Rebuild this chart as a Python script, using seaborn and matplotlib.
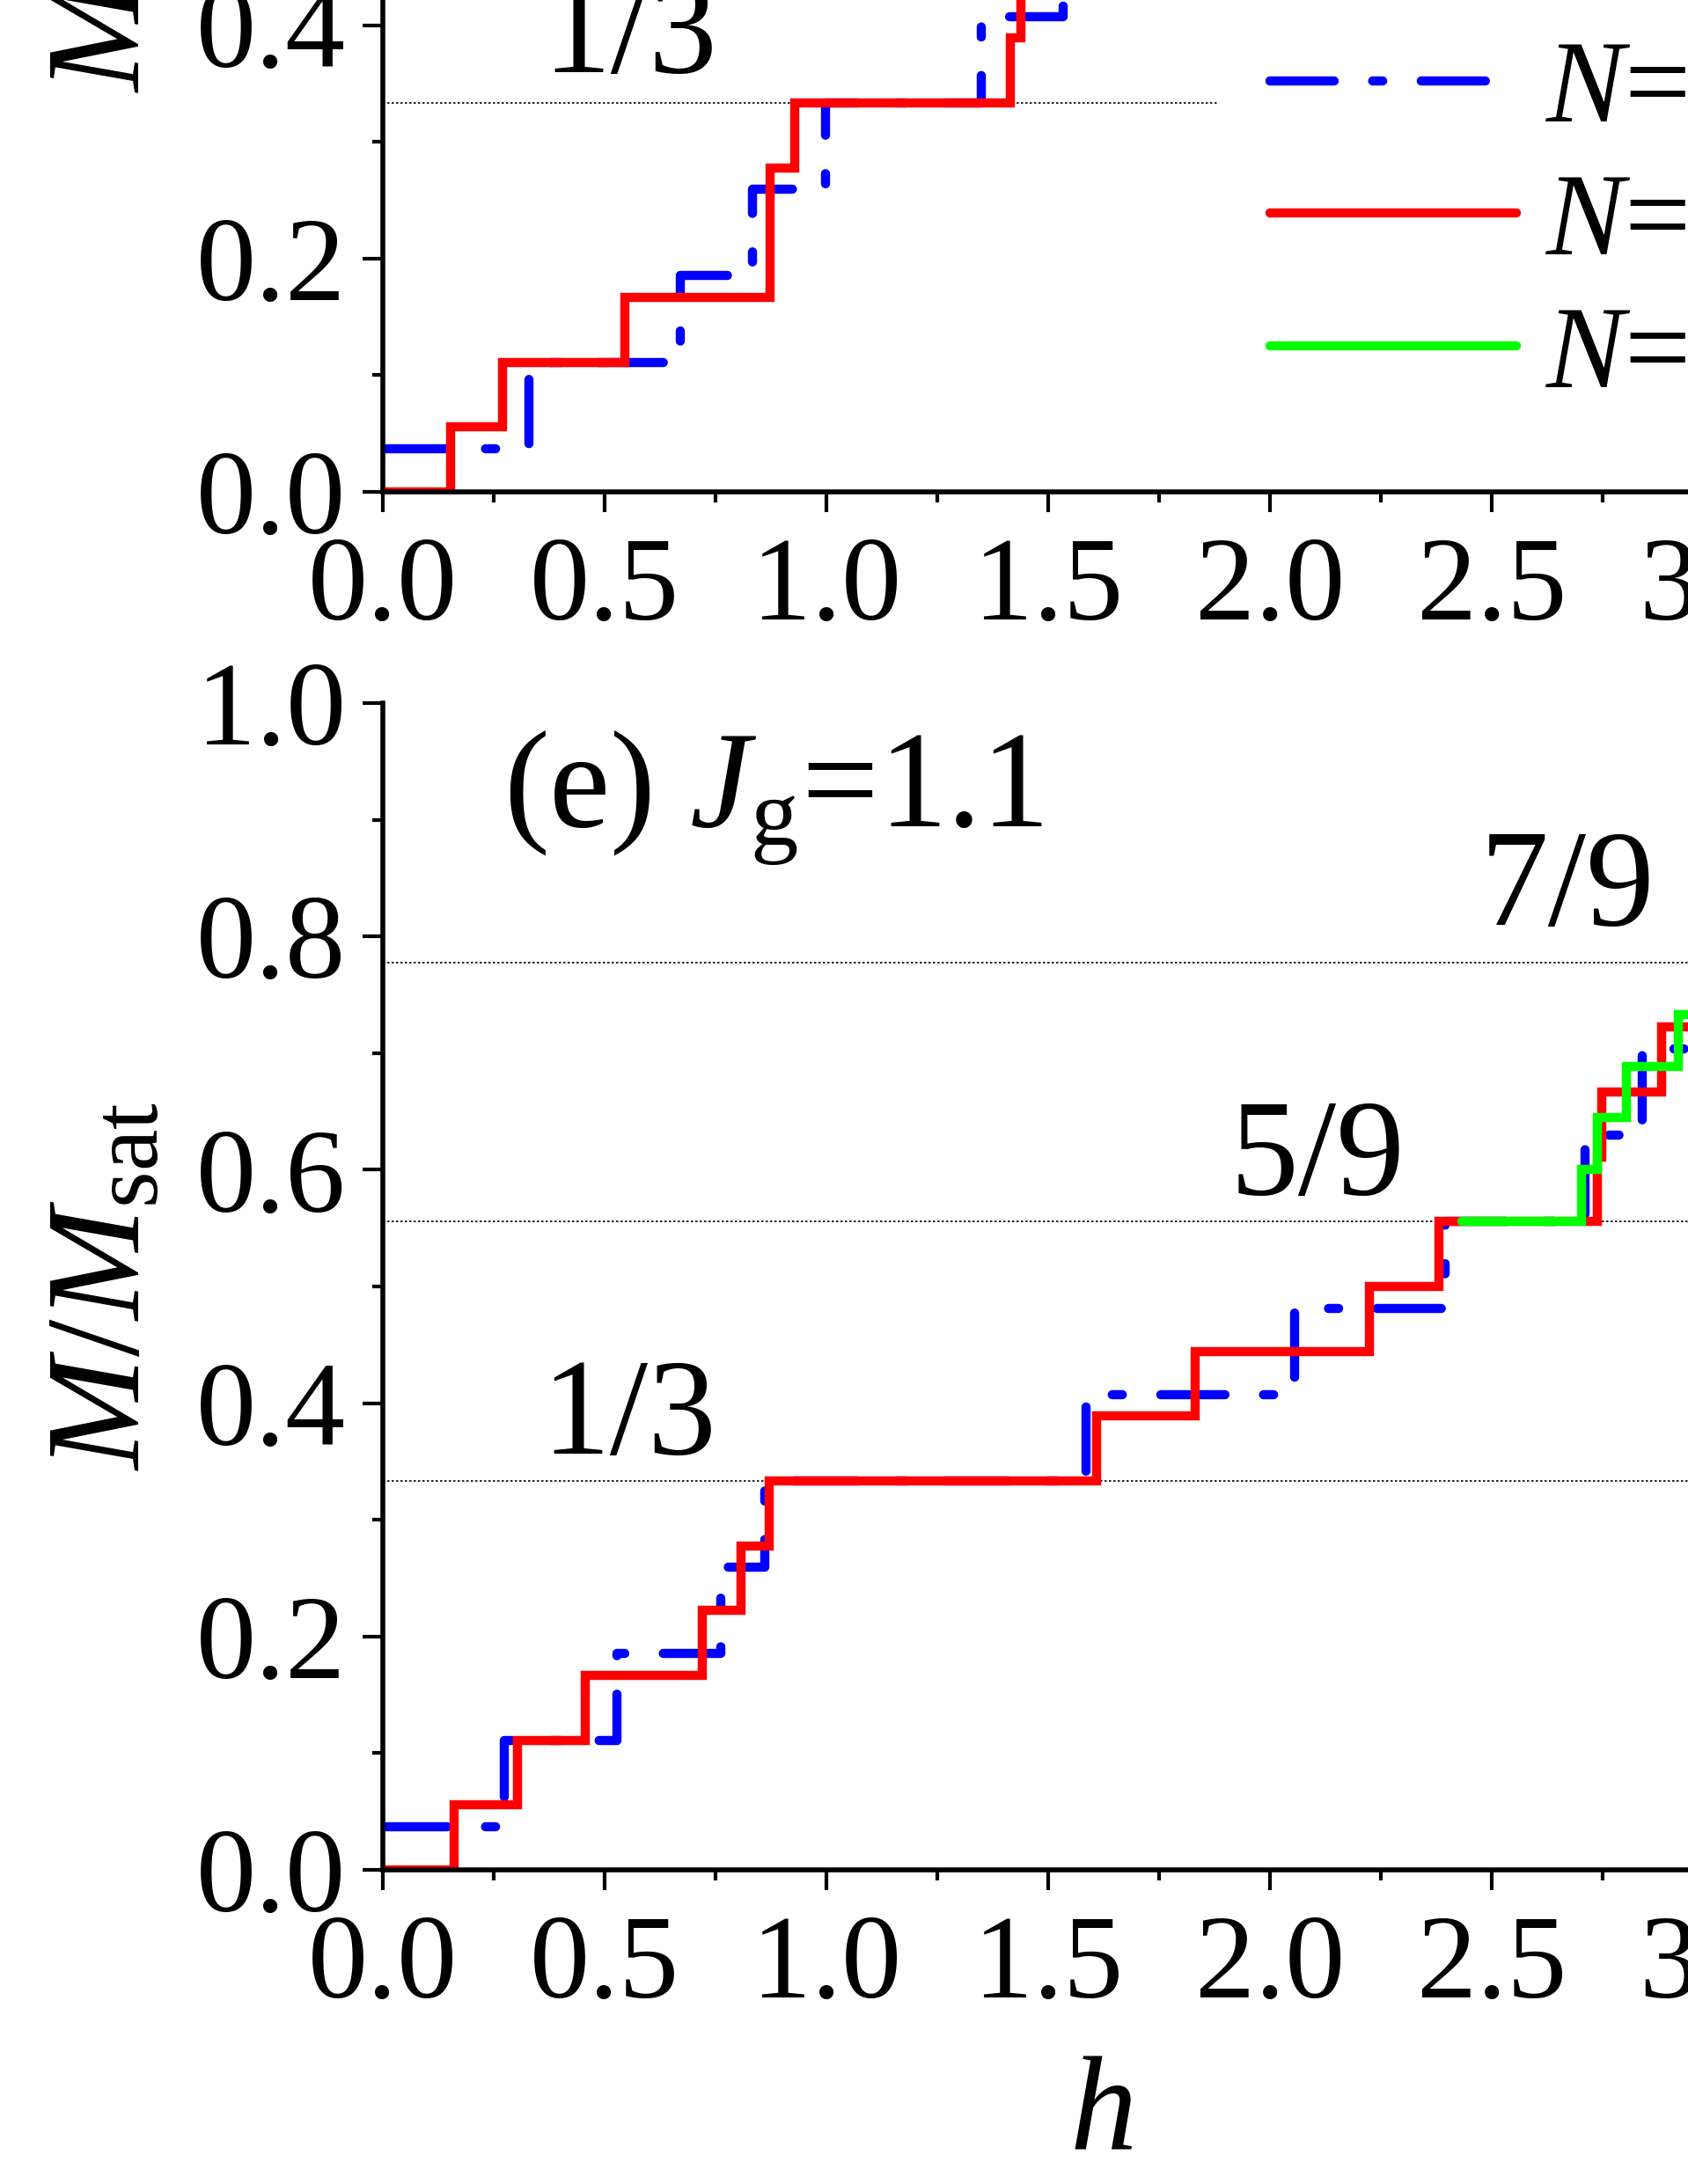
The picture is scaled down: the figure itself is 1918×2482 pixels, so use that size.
# Magnetization curves M/Msat vs h, steps for three cluster sizes
import matplotlib
matplotlib.use("Agg")
import matplotlib.pyplot as plt
import seaborn as sns
from matplotlib.ticker import MultipleLocator, FormatStrFormatter

sns.set_style("ticks")
plt.rcParams['font.family'] = ['Liberation Serif', 'DejaVu Serif']
plt.rcParams['mathtext.fontset'] = 'custom'
plt.rcParams['mathtext.rm'] = 'Liberation Serif'
plt.rcParams['mathtext.it'] = 'Liberation Serif:italic'
for key in ['text.color', 'axes.labelcolor', 'xtick.color', 'ytick.color']:
    plt.rcParams[key] = 'black'

# legend labels / colours
sizes = ['$N$=27', '$N$=36', '$N$=45']
colors = ['#0000ff', '#ff0000', '#00ff00']

# upper panel (only its lower part is visible)
top_h_27 = [0.0, 0.329, 0.671, 0.833, 0.999, 1.349, 1.534, 1.70]
top_m_27 = [1/27, 3/27, 5/27, 7/27, 9/27, 11/27, 13/27, 13/27]
top_h_36 = [0.0, 0.153, 0.270, 0.546, 0.873, 0.929, 1.415, 1.439, 1.60]
top_m_36 = [0, 1/18, 2/18, 3/18, 5/18, 6/18, 7/18, 8/18, 8/18]
top_plateaus = [1/3]
top_plateau_end = 1.885

# panel (e), Jg = 1.1
e_h_27 = [0.0, 0.274, 0.528, 0.762, 0.861, 1.586, 2.056, 2.395, 2.711, 2.840, 3.0]
e_m_27 = [1/27, 3/27, 5/27, 7/27, 9/27, 11/27, 13/27, 15/27, 17/27, 19/27, 19/27]
e_h_36 = [0.0, 0.161, 0.303, 0.457, 0.720, 0.807, 0.872, 1.609, 1.831,
          2.225, 2.380, 2.738, 2.748, 2.882, 3.0]
e_m_36 = [0, 1/18, 2/18, 3/18, 4/18, 5/18, 6/18, 7/18, 8/18,
          9/18, 10/18, 11/18, 12/18, 13/18, 13/18]
e_h_45 = [2.432, 2.702, 2.738, 2.804, 2.920, 3.0]
e_m_45 = [25/45, 27/45, 29/45, 31/45, 33/45, 33/45]
e_plateaus = [1/3, 5/9, 7/9]
e_labels = ['1/3', '5/9', '7/9']

XMAX = 3.24
LW = 7.5
dashdot = (0, (7.0, 4.2, 1.1, 4.2))

fig = plt.figure(figsize=(19.18, 24.82), dpi=100)
ax_top = fig.add_axes([0.2268, 0.7748, XMAX * 504 / 1918, 0.53425])
ax_bot = fig.add_axes([0.2268, 0.14383, XMAX * 504 / 1918, 0.53425])


def style_axis(ax):
    ax.set_xlim(0, XMAX)
    ax.set_ylim(0, 1.0)
    ax.xaxis.set_major_locator(MultipleLocator(0.5))
    ax.xaxis.set_minor_locator(MultipleLocator(0.25))
    ax.yaxis.set_major_locator(MultipleLocator(0.2))
    ax.yaxis.set_minor_locator(MultipleLocator(0.1))
    ax.xaxis.set_major_formatter(FormatStrFormatter('%.1f'))
    ax.yaxis.set_major_formatter(FormatStrFormatter('%.1f'))
    ax.tick_params(which='major', direction='out', length=16.5, width=3,
                   labelsize=98, color='black', labelcolor='black')
    ax.tick_params(which='minor', direction='out', length=8.5, width=3, color='black')
    ax.tick_params(axis='x', which='major', pad=20)
    ax.tick_params(axis='y', which='major', pad=14)
    for side in ['top', 'right']:
        ax.spines[side].set_visible(False)
    for side in ['left', 'bottom']:
        ax.spines[side].set_linewidth(4)
        ax.spines[side].set_color('black')
    ax.set_ylabel(r'$M/M_{\rm sat}$', fontsize=110, labelpad=22)


def steps(ax, h, m, color, ls='-'):
    sns.lineplot(x=h, y=m, ax=ax, color=color, linewidth=LW, linestyle=ls,
                 drawstyle='steps-post', estimator=None, sort=False, legend=False,
                 solid_capstyle='round', dash_capstyle='round',
                 solid_joinstyle='miter')
    return ax.lines[-1]


# upper panel
style_axis(ax_top)
ax_top.hlines(top_plateaus, 0, top_plateau_end, colors='black', linewidth=1.2,
              linestyles=(0, (1.5, 1.5)), zorder=1)
steps(ax_top, top_h_27, top_m_27, colors[0], dashdot)
steps(ax_top, top_h_36, top_m_36, colors[1])
ax_top.text(0.36, 0.3595, '1/3', fontsize=112, ha='left', va='baseline')

# panel (e)
style_axis(ax_bot)
ax_bot.hlines(e_plateaus, 0, XMAX, colors='black', linewidth=1.2,
              linestyles=(0, (1.5, 1.5)), zorder=1)
handles = [steps(ax_bot, e_h_27, e_m_27, colors[0], dashdot),
           steps(ax_bot, e_h_36, e_m_36, colors[1]),
           steps(ax_bot, e_h_45, e_m_45, colors[2])]
ax_bot.set_xlabel('$h$', fontsize=110, labelpad=26)

label_pos = [(0.357, 0.357), (1.91, 0.579), (2.474, 0.81)]
for (hx, my), s in zip(label_pos, e_labels):
    ax_bot.text(hx, my, s, fontsize=112, ha='left', va='baseline')
ax_bot.text(0.272, 0.894, r'(e) $J_{\rm g}$=1.1', fontsize=112, ha='left', va='baseline')

ax_top.legend(handles=handles, labels=sizes, loc='upper left',
              bbox_to_anchor=(1443 / 1918, 1 - 45 / 2482), bbox_transform=fig.transFigure,
              frameon=False, fontsize=96, handlelength=2.1, handletextpad=0.25,
              labelspacing=0.22, borderpad=0, borderaxespad=0)

fig.savefig('out.png', dpi=100)
